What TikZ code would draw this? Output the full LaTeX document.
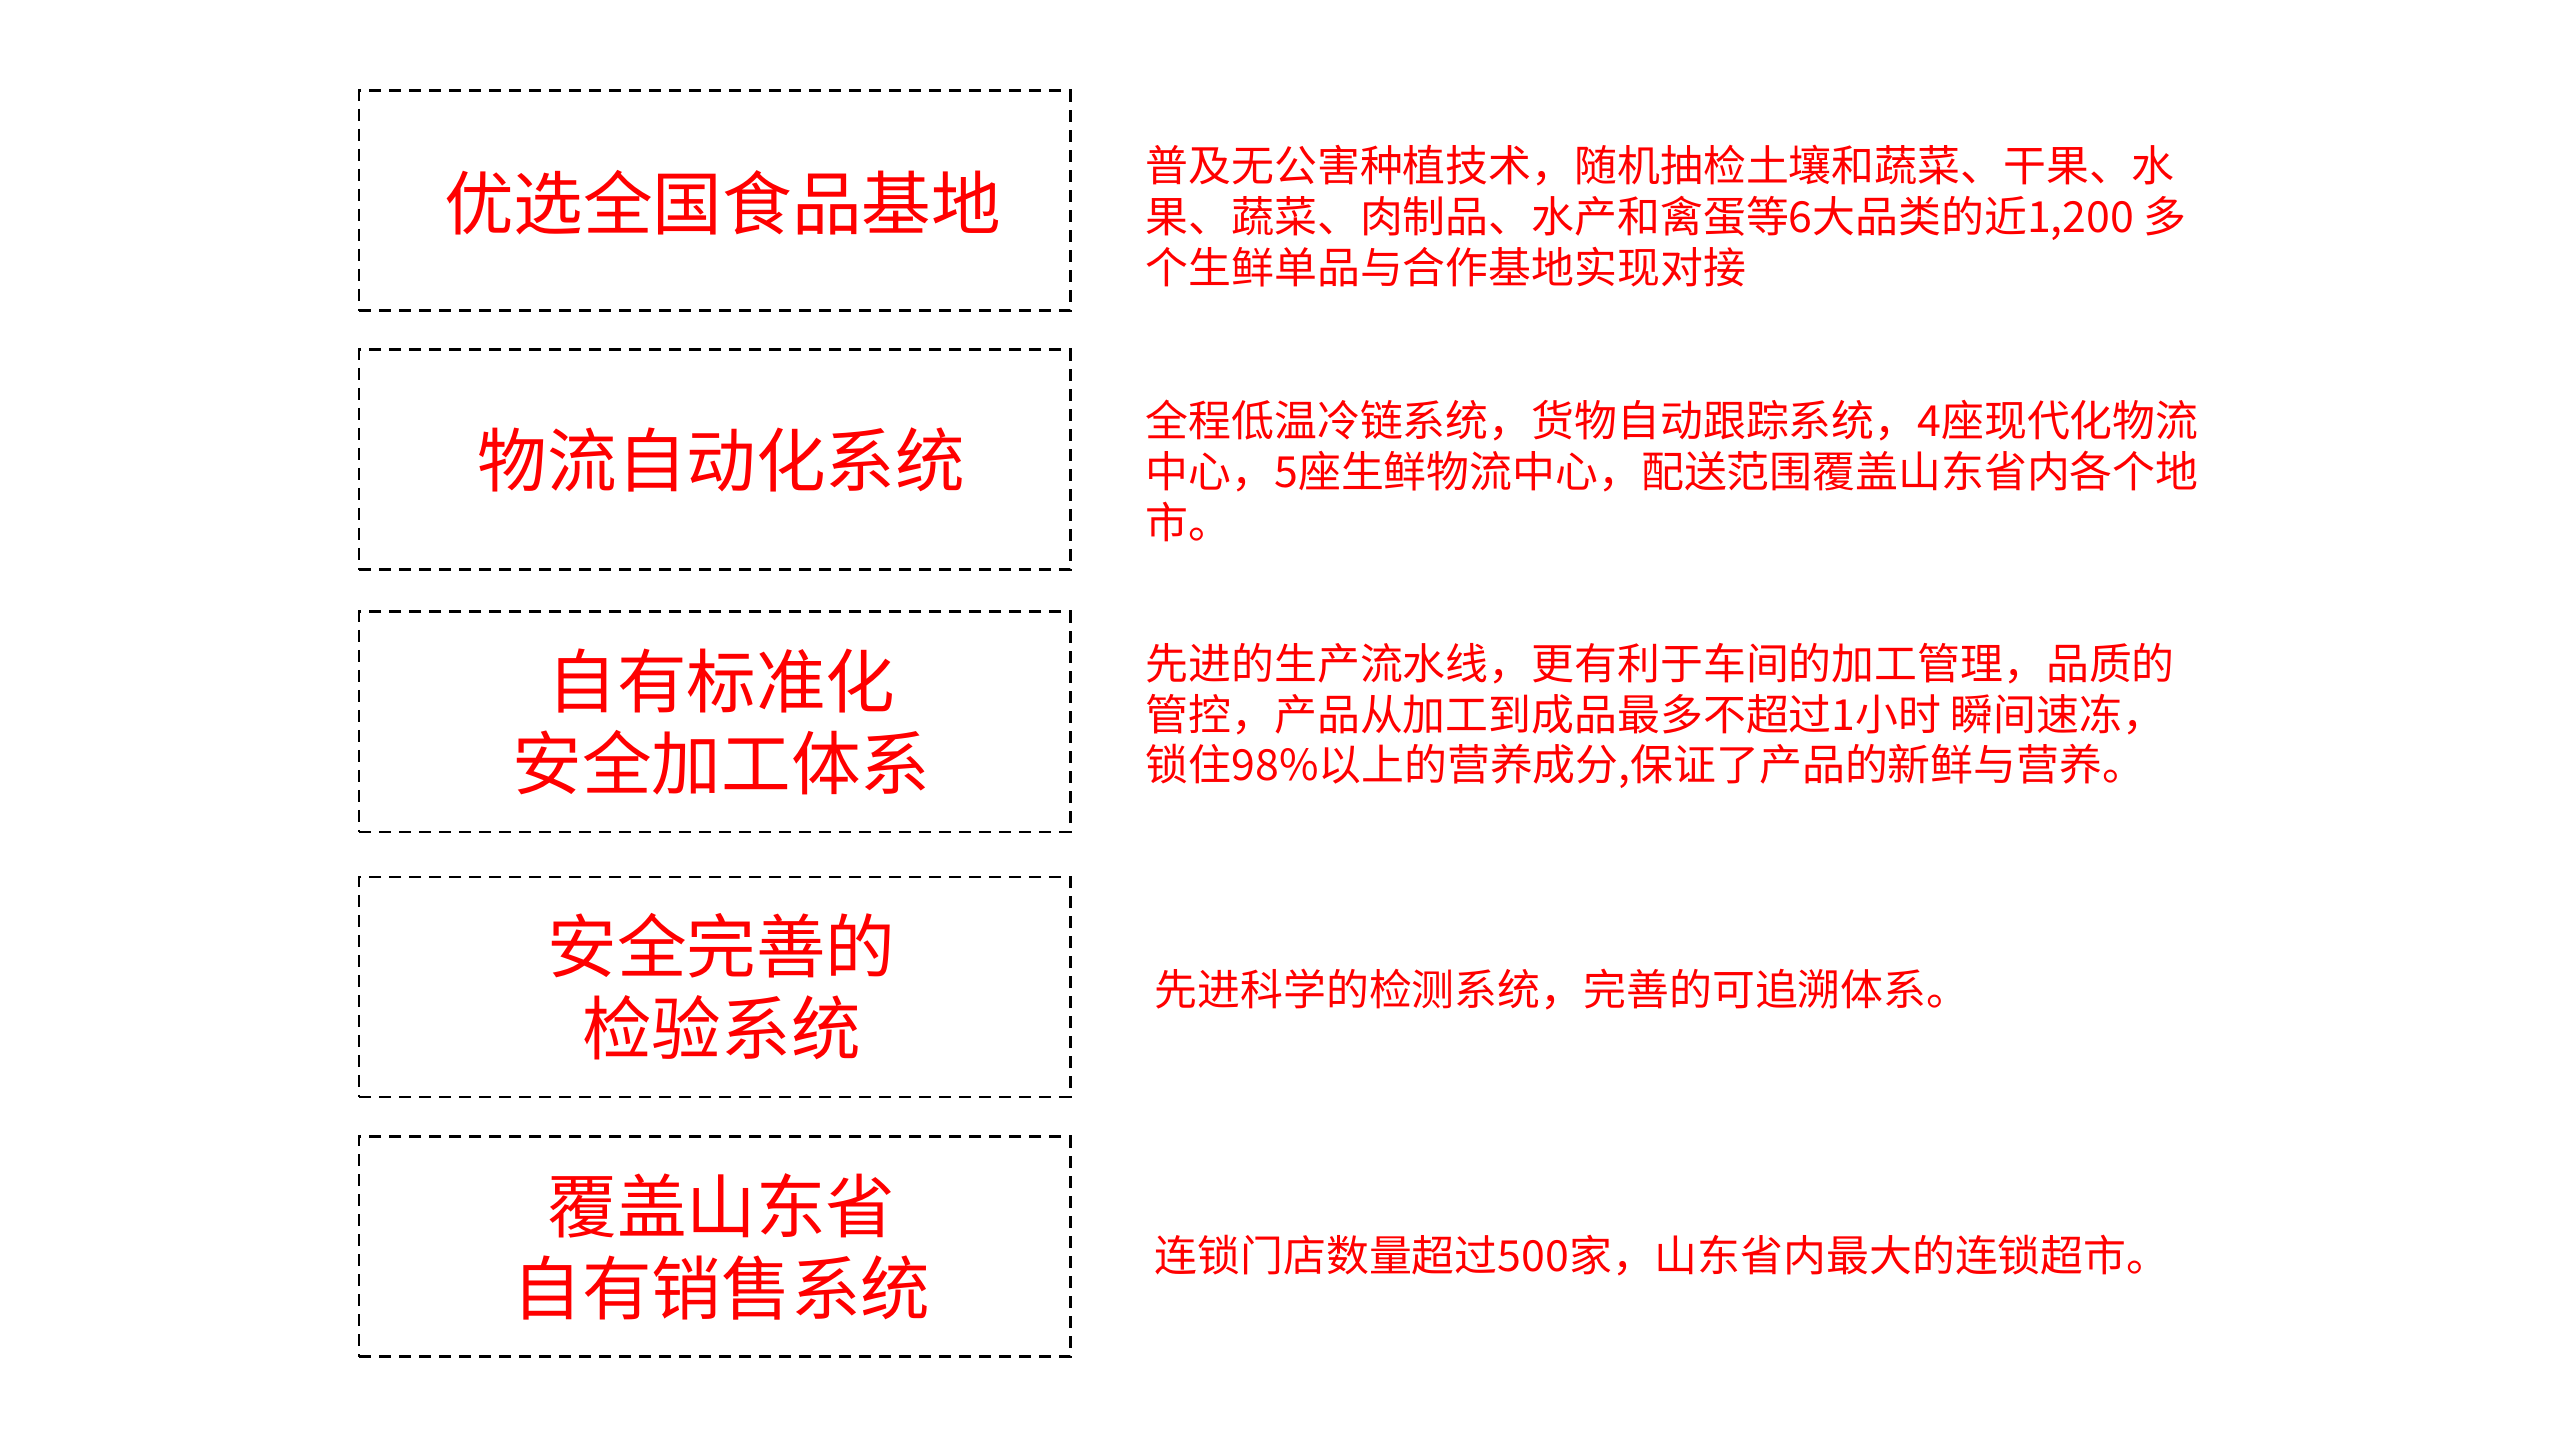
\documentclass[tikz,border=0pt]{standalone}
\usepackage{fontspec}
\setmainfont{Noto Sans CJK SC}
\usetikzlibrary{positioning}
\definecolor{titlered}{HTML}{FF0000}
\tikzset
{
    titlebox/.style = {draw=black, line width=0.85pt, dash pattern=on 1.2mm off 0.8mm, minimum width=7.11cm, minimum height=2.2cm, inner sep=0pt},
    titletext/.style = {text=titlered, align=center, font=\fontsize{19.8pt}{23.3pt}\selectfont},
    desctext/.style = {text=titlered, align=left, anchor=west, inner sep=0pt, font=\fontsize{12.2pt}{14.5pt}\selectfont}
}

\begin{document}
\begin{tikzpicture}
\useasboundingbox (0,0) rectangle (25.6,14.4);
% left column
\node[titlebox] (base) at (7.145,12.39) {};
\node[titlebox] (logistics) at (7.145,9.80) {};
\node[titlebox] (process) at (7.145,7.18) {};
\node[titlebox] (inspect) at (7.145,4.53) {};
\node[titlebox] (sales) at (7.145,1.935) {};
\node[titletext] (baseT) at ([xshift=0.08cm,yshift=-0.02cm]base.center) {优选全国食品基地};
\node[titletext] (logisticsT) at ([xshift=0.07cm]logistics.center) {物流自动化系统};
\node[titletext] (processT) at ([xshift=0.07cm]process.center) {自有标准化\\安全加工体系};
\node[titletext] (inspectT) at ([xshift=0.07cm]inspect.center) {安全完善的\\检验系统};
\node[titletext] (salesT) at ([xshift=0.07cm]sales.center) {覆盖山东省\\自有销售系统};
% right column
\node[desctext] (baseD) at (11.45,12.24) {普及无公害种植技术，随机抽检土壤和蔬菜、干果、水\\果、蔬菜、肉制品、水产和禽蛋等6大品类的近1,200 多\\个生鲜单品与合作基地实现对接};
\node[desctext] (logisticsD) at (11.45,9.69) {全程低温冷链系统，货物自动跟踪系统，4座现代化物流\\中心，5座生鲜物流中心，配送范围覆盖山东省内各个地\\市。};
\node[desctext] (processD) at (11.45,7.24) {先进的生产流水线，更有利于车间的加工管理，品质的\\管控，产品从加工到成品最多不超过1小时 瞬间速冻，\\锁住98\%以上的营养成分,保证了产品的新鲜与营养。};
\node[desctext] (inspectD) at (11.54,4.50) {先进科学的检测系统，完善的可追溯体系。};
\node[desctext] (salesD) at (11.54,1.84) {连锁门店数量超过500家，山东省内最大的连锁超市。};
\end{tikzpicture}
\end{document}
